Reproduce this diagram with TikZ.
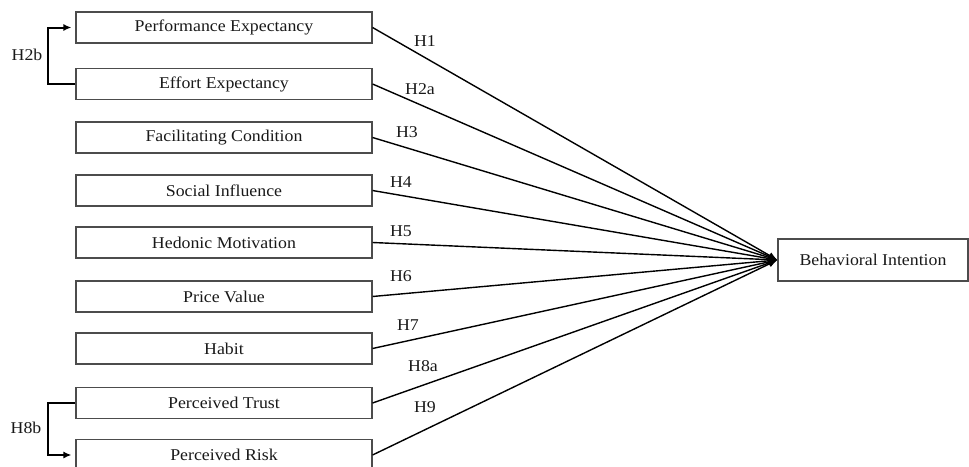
\documentclass[tikz,border=0pt]{standalone}
\usepackage{fontspec}
\setmainfont{Liberation Serif}[FakeStretch=1.08]
\usetikzlibrary{arrows.meta}
\begin{document}
\begin{tikzpicture}[x=1pt,y=-1pt,
  box/.style={draw=black!70,line width=1.1pt,minimum width=296pt,minimum height=31pt,inner sep=0pt,font=\fontsize{16.5}{18}\selectfont,text=black!90},
  outbox/.style={draw=black!70,line width=1.1pt,minimum width=190pt,minimum height=42pt,inner sep=0pt,font=\fontsize{16.5}{18}\selectfont,text=black!90},
  path/.style={line width=1.4pt,-{Latex[length=9pt,width=7pt]}},
  hlab/.style={font=\fontsize{16.5}{18}\selectfont,text=black!90,inner sep=0pt},
  bracket/.style={line width=2pt,-{Latex[length=8pt,width=7pt]}}]
\useasboundingbox (0,0) rectangle (969,466);
\clip (0,0) rectangle (969,466);
\node[box] (pe) at (224,27.5) {Performance Expectancy};
\node[box] (ee) at (224,84) {Effort Expectancy};
\node[box] (fc) at (224,137.5) {Facilitating Condition};
\node[box] (si) at (224,190.5) {Social Influence};
\node[box] (hm) at (224,242.5) {Hedonic Motivation};
\node[box] (pv) at (224,296.5) {Price Value};
\node[box] (hb) at (224,348.5) {Habit};
\node[box] (pt) at (224,403) {Perceived Trust};
\node[box] (pr) at (224,455) {Perceived Risk};
\node[outbox] (bi) at (873,260) {Behavioral Intention};
\foreach \n in {pe,ee,fc,si,hm,pv,hb,pt,pr}
  \draw[path] (\n.east) -- (bi.west);
\node[hlab] (l1) at (425,41) {H1};
\node[hlab] (l2) at (420,89) {H2a};
\node[hlab] (l3) at (407,132) {H3};
\node[hlab] (l4) at (401,182) {H4};
\node[hlab] (l5) at (401,231) {H5};
\node[hlab] (l6) at (401,276) {H6};
\node[hlab] (l7) at (408,325) {H7};
\node[hlab] (l8) at (423,366) {H8a};
\node[hlab] (l9) at (425,407) {H9};
\draw[bracket] (ee.west) -- ++(-27,0) |- ([xshift=-4pt]pe.west);
\draw[bracket] (pt.west) -- ++(-27,0) |- ([xshift=-4pt]pr.west);
\node[hlab] (h2b) at (27,55) {H2b};
\node[hlab] (h8b) at (26,428) {H8b};
\end{tikzpicture}
\end{document}
